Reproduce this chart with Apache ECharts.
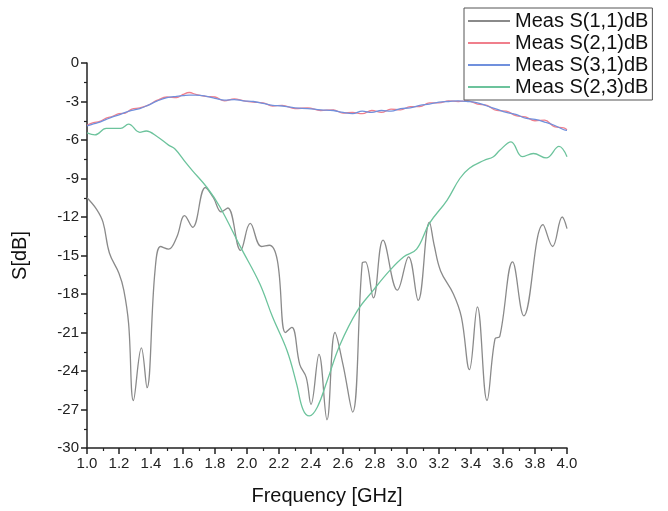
<!DOCTYPE html>
<html>
<head>
<meta charset="utf-8">
<script src="https://cdn.jsdelivr.net/npm/echarts@6/dist/echarts.min.js"></script>
<style>html,body{margin:0;padding:0;background:#fff;}#c{width:668px;height:511px;}</style>
</head>
<body>
<div id="c"></div>
<script>
// ---- data ----
const seriesNames = ['Meas S(1,1)dB', 'Meas S(2,1)dB', 'Meas S(3,1)dB', 'Meas S(2,3)dB'];
const xTickLabels = ['1.0','1.2','1.4','1.6','1.8','2.0','2.2','2.4','2.6','2.8','3.0','3.2','3.4','3.6','3.8','4.0'];
const yTickLabels = ['0','-3','-6','-9','-12','-15','-18','-21','-24','-27','-30'];

const s11Freq = [1.00,1.06,1.10,1.14,1.20,1.23,1.26,1.29,1.34,1.375,1.425,1.46,1.51,1.56,1.61,1.66,1.74,1.79,1.84,1.88,1.96,2.02,2.09,2.14,2.19,2.24,2.28,2.33,2.37,2.40,2.45,2.50,2.55,2.60,2.66,2.72,2.74,2.79,2.85,2.94,3.01,3.07,3.14,3.17,3.21,3.29,3.34,3.39,3.44,3.50,3.55,3.58,3.66,3.73,3.85,3.91,3.97,4.00];
const s11Vals = [-10.5,-11.4,-12.4,-14.8,-16.4,-17.7,-20.3,-26.3,-22.2,-25.3,-16.2,-14.3,-14.5,-13.6,-11.9,-12.8,-9.7,-10.5,-11.6,-11.3,-14.6,-12.5,-14.3,-14.2,-15.4,-21.0,-20.6,-23.5,-24.5,-26.6,-22.7,-27.8,-21.0,-23.5,-27.2,-15.6,-15.5,-18.3,-13.8,-17.7,-15.1,-18.5,-12.4,-14.2,-16.2,-18.0,-19.8,-23.9,-19.0,-26.3,-21.5,-21.3,-15.5,-19.7,-12.6,-14.3,-12.0,-12.9];

const sParFreq = [1.00,1.04,1.08,1.12,1.16,1.20,1.24,1.28,1.33,1.38,1.44,1.50,1.56,1.60,1.64,1.68,1.74,1.80,1.86,1.92,1.98,2.04,2.10,2.16,2.22,2.30,2.38,2.46,2.54,2.60,2.66,2.72,2.78,2.84,2.90,2.96,3.02,3.08,3.14,3.20,3.26,3.32,3.38,3.44,3.50,3.56,3.62,3.68,3.74,3.80,3.86,3.92,3.98,4.00];
const s21Vals = [-4.85,-4.65,-4.55,-4.3,-4.15,-3.95,-3.9,-3.6,-3.5,-3.3,-2.9,-2.65,-2.7,-2.45,-2.3,-2.45,-2.6,-2.65,-2.95,-2.8,-2.95,-3.05,-3.1,-3.35,-3.3,-3.55,-3.5,-3.7,-3.65,-3.9,-3.85,-3.95,-3.7,-3.85,-3.6,-3.65,-3.4,-3.4,-3.1,-3.1,-2.95,-3.0,-2.95,-3.2,-3.3,-3.7,-3.75,-4.1,-4.2,-4.5,-4.45,-4.95,-5.05,-5.2];
const s31Vals = [-4.9,-4.75,-4.6,-4.4,-4.2,-4.05,-3.85,-3.7,-3.55,-3.3,-2.95,-2.7,-2.6,-2.55,-2.5,-2.5,-2.58,-2.75,-2.9,-2.85,-2.95,-3.0,-3.15,-3.3,-3.35,-3.5,-3.55,-3.65,-3.7,-3.85,-3.95,-3.75,-3.85,-3.7,-3.75,-3.55,-3.5,-3.3,-3.2,-3.05,-3.0,-2.95,-3.0,-3.1,-3.35,-3.6,-3.85,-4.0,-4.3,-4.4,-4.6,-4.85,-5.2,-5.25];

const s23Freq = [1.00,1.05,1.12,1.21,1.26,1.33,1.37,1.44,1.51,1.55,1.62,1.66,1.75,1.83,1.96,2.08,2.16,2.25,2.31,2.35,2.39,2.44,2.50,2.58,2.69,2.79,2.89,2.98,3.06,3.14,3.25,3.33,3.39,3.48,3.54,3.58,3.65,3.72,3.79,3.87,3.95,4.00];
const s23Vals = [-5.45,-5.6,-5.1,-5.1,-4.77,-5.4,-5.3,-5.75,-6.4,-6.7,-7.8,-8.4,-9.7,-11.2,-14.35,-17.2,-19.8,-22.4,-25.0,-27.0,-27.5,-26.8,-24.8,-22.0,-19.3,-17.7,-16.2,-15.1,-14.5,-12.5,-10.7,-9.0,-8.2,-7.6,-7.3,-6.8,-6.15,-7.3,-7.05,-7.4,-6.5,-7.3];

const colors = ['#8a8a8a', '#f07f8c', '#7090dd', '#6cc39c'];

function pairs(xs, ys) { return xs.map((x, i) => [x, ys[i]]); }

const chart = echarts.init(document.getElementById('c'), null, { renderer: 'canvas', width: 668, height: 511 });
const font = 'Liberation Sans, Arial, sans-serif';

const seriesData = [pairs(s11Freq, s11Vals), pairs(sParFreq, s21Vals), pairs(sParFreq, s31Vals), pairs(s23Freq, s23Vals)];

chart.setOption({
  animation: false,
  backgroundColor: '#fff',
  color: colors,
  textStyle: { fontFamily: font },
  grid: { left: 87, top: 63, width: 480, height: 385, containLabel: false },
  legend: {
    data: seriesNames,
    orient: 'vertical',
    left: 464, top: 8,
    backgroundColor: '#fff',
    borderColor: '#555', borderWidth: 1,
    padding: [3, 4, 3, 4],
    itemWidth: 42, itemHeight: 2, itemGap: 2,
    icon: 'rect',
    textStyle: { fontSize: 20, color: '#111', fontFamily: font, lineHeight: 20 },
    z: 10
  },
  xAxis: {
    type: 'value', min: 1, max: 4, interval: 0.2,
    name: 'Frequency [GHz]', nameLocation: 'middle', nameGap: 38,
    nameTextStyle: { fontSize: 20, color: '#111', fontFamily: font },
    axisLine: { show: true, onZero: false, lineStyle: { color: '#222', width: 1.5 } },
    axisTick: { show: true, inside: false, length: 6, lineStyle: { color: '#222', width: 1.5 } },
    minorTick: { show: true, splitNumber: 2, length: 3, lineStyle: { color: '#222', width: 1.2 } },
    splitLine: { show: false },
    axisLabel: { fontSize: 15, color: '#222', margin: 8, fontFamily: font,
      formatter: v => { const s = v.toFixed(1); return xTickLabels.includes(s) ? s : ''; } }
  },
  yAxis: {
    type: 'value', min: -30, max: 0, interval: 3,
    name: 'S[dB]', nameLocation: 'middle', nameGap: 57, nameRotate: 90,
    nameTextStyle: { fontSize: 20, color: '#111', fontFamily: font },
    axisLine: { show: true, onZero: false, lineStyle: { color: '#222', width: 1.5 } },
    axisTick: { show: true, inside: false, length: 6, lineStyle: { color: '#222', width: 1.5 } },
    minorTick: { show: true, splitNumber: 2, length: 3, lineStyle: { color: '#222', width: 1.2 } },
    splitLine: { show: false },
    axisLabel: { fontSize: 15, color: '#222', margin: 8, fontFamily: font,
      formatter: v => { const s = String(Math.round(v)); return yTickLabels.includes(s) ? s : ''; } }
  },
  series: seriesNames.map((n, i) => ({
    name: n, type: 'line', data: seriesData[i],
    smooth: 0.4, showSymbol: false, symbol: 'none',
    lineStyle: { width: 1.3, color: colors[i] },
    itemStyle: { color: colors[i] },
    z: 2 + i
  }))
});
</script>
</body>
</html>
